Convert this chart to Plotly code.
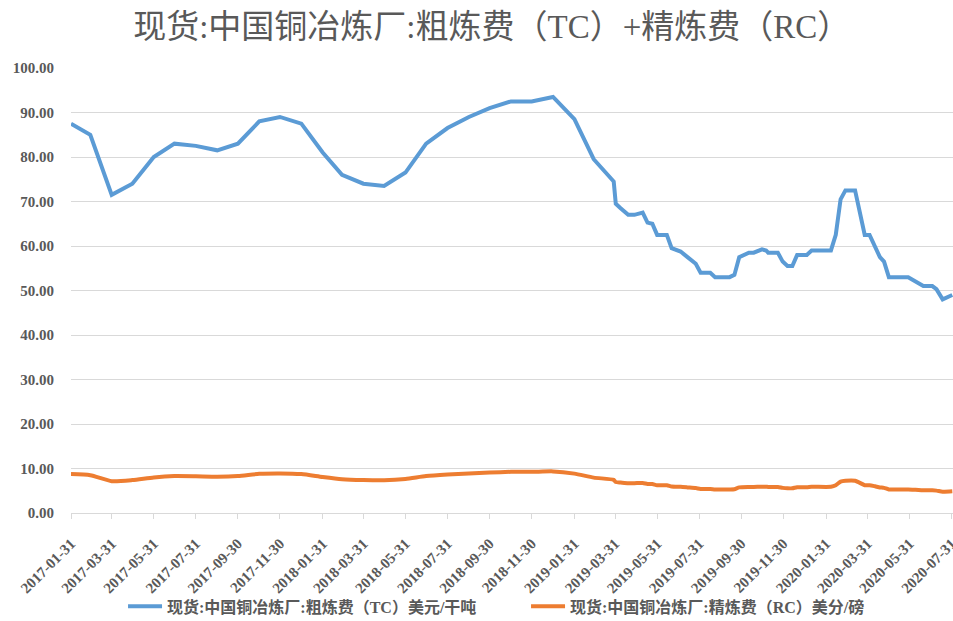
import plotly.graph_objects as go

dates = [
    "2017-01-31", "2017-02-28", "2017-03-31", "2017-04-30", "2017-05-31", "2017-06-30",
    "2017-07-31", "2017-08-31", "2017-09-30", "2017-10-31", "2017-11-30", "2017-12-31",
    "2018-01-31", "2018-02-28", "2018-03-31", "2018-04-30", "2018-05-31", "2018-06-30",
    "2018-07-31", "2018-08-31", "2018-09-30", "2018-10-31", "2018-11-30", "2018-12-31",
    "2019-01-31", "2019-02-28", "2019-03-29", "2019-04-01", "2019-04-08", "2019-04-19",
    "2019-04-28", "2019-05-10", "2019-05-17", "2019-05-24", "2019-05-31", "2019-06-14",
    "2019-06-21", "2019-07-04", "2019-07-14", "2019-07-26", "2019-08-02", "2019-08-16",
    "2019-08-23", "2019-09-13", "2019-09-20", "2019-09-27", "2019-10-11", "2019-10-18",
    "2019-10-30", "2019-11-05", "2019-11-08", "2019-11-22", "2019-11-29", "2019-12-06",
    "2019-12-13", "2019-12-20", "2020-01-03", "2020-01-10", "2020-02-07", "2020-02-14",
    "2020-02-21", "2020-02-28", "2020-03-13", "2020-03-27", "2020-04-03", "2020-04-11",
    "2020-04-18", "2020-04-24", "2020-05-01", "2020-05-29", "2020-06-04", "2020-06-13",
    "2020-06-20", "2020-07-03", "2020-07-09", "2020-07-18", "2020-08-01",
]

tc_values = [
    87.5, 85.0, 71.5, 74.0, 80.0, 83.0,
    82.5, 81.5, 83.0, 88.0, 89.0, 87.5,
    81.0, 76.0, 74.0, 73.5, 76.5, 83.0,
    86.5, 89.0, 91.0, 92.5, 92.5, 93.5,
    88.5, 79.5, 74.5, 69.5, 68.5, 67.0,
    67.0, 67.5, 65.25, 65.0, 62.5, 62.5,
    59.5, 58.75, 57.5, 56.0, 54.0, 54.0,
    53.0, 53.0, 53.5, 57.5, 58.5, 58.5,
    59.25, 59.0, 58.5, 58.5, 56.5, 55.5,
    55.5, 58.0, 58.0, 59.0, 59.0, 62.5,
    70.5, 72.5, 72.5, 62.5, 62.5, 60.0,
    57.5, 56.5, 53.0, 53.0, 52.5, 51.5,
    51.0, 51.0, 50.3, 48.0, 49.0,
]

rc_values = [
    8.75, 8.5, 7.15, 7.4, 8.0, 8.3,
    8.25, 8.15, 8.3, 8.8, 8.9, 8.75,
    8.1, 7.6, 7.4, 7.35, 7.65, 8.3,
    8.65, 8.9, 9.1, 9.25, 9.25, 9.35,
    8.85, 7.95, 7.45, 6.95, 6.85, 6.7,
    6.7, 6.75, 6.525, 6.5, 6.25, 6.25,
    5.95, 5.875, 5.75, 5.6, 5.4, 5.4,
    5.3, 5.3, 5.35, 5.75, 5.85, 5.85,
    5.925, 5.9, 5.85, 5.85, 5.65, 5.55,
    5.55, 5.8, 5.8, 5.9, 5.9, 6.25,
    7.05, 7.25, 7.25, 6.25, 6.25, 6.0,
    5.75, 5.65, 5.3, 5.3, 5.25, 5.15,
    5.1, 5.1, 5.03, 4.8, 4.9,
]

tick_dates = [
    "2017-01-31", "2017-03-31", "2017-05-31", "2017-07-31", "2017-09-30", "2017-11-30",
    "2018-01-31", "2018-03-31", "2018-05-31", "2018-07-31", "2018-09-30", "2018-11-30",
    "2019-01-31", "2019-03-31", "2019-05-31", "2019-07-31", "2019-09-30", "2019-11-30",
    "2020-01-31", "2020-03-31", "2020-05-31", "2020-07-31",
]
y_ticks = [0, 10, 20, 30, 40, 50, 60, 70, 80, 90, 100]

title_text = "现货:中国铜冶炼厂:粗炼费（TC）+精炼费（RC）"
tc_name = "现货:中国铜冶炼厂:粗炼费（TC）美元/干吨"
rc_name = "现货:中国铜冶炼厂:精炼费（RC）美分/磅"

serif = "Liberation Serif"
mixed = "Liberation Serif, Noto Sans CJK SC"
grey = "#595959"

fig = go.Figure()
fig.add_trace(go.Scatter(
    x=dates, y=tc_values, name=tc_name, mode="lines",
    line=dict(color="#5B9BD5", width=4),
))
fig.add_trace(go.Scatter(
    x=dates, y=rc_values, name=rc_name, mode="lines",
    line=dict(color="#ED7D31", width=4, shape="spline", smoothing=0.6),
))

fig.update_layout(
    width=953, height=621,
    margin=dict(l=71, r=0, t=68, b=108, autoexpand=False),
    paper_bgcolor="white", plot_bgcolor="white",
    title=dict(
        text=title_text, x=0.516, xref="container", xanchor="center",
        y=0.958, yref="container", yanchor="middle",
        font=dict(family=mixed, size=33, color=grey),
    ),
    showlegend=True,
    legend=dict(
        orientation="h", x=0.059, xanchor="left", y=-0.21, yanchor="middle",
        font=dict(family=mixed, size=16, color=grey, weight="bold"),
        entrywidth=354, entrywidthmode="pixels",
        itemwidth=34, bgcolor="rgba(0,0,0,0)",
    ),
    xaxis=dict(
        type="date",
        range=["2017-01-31", "2020-08-02"],
        tickvals=tick_dates, ticktext=tick_dates,
        tickangle=-45, automargin=False,
        ticklabeloverflow="allow",
        tickfont=dict(family=serif, size=15, color=grey, weight="bold"),
        showgrid=False, zeroline=False,
        showline=True, linecolor="#D9D9D9", linewidth=1,
        ticks="outside", ticklen=5, tickcolor="#D9D9D9",
        ticklabelstandoff=10,
    ),
    yaxis=dict(
        range=[0, 100], automargin=False,
        tickvals=y_ticks,
        tickformat=".2f",
        tickfont=dict(family=serif, size=15, color=grey, weight="bold"),
        showgrid=True, gridcolor="#D9D9D9", gridwidth=1,
        zeroline=False, showline=False,
        ticklabelstandoff=16,
    ),
)

fig.write_html(
    "out.html",
    config={"displayModeBar": False},
    post_script="document.body.style.margin='0';document.body.style.overflow='hidden';",
)
